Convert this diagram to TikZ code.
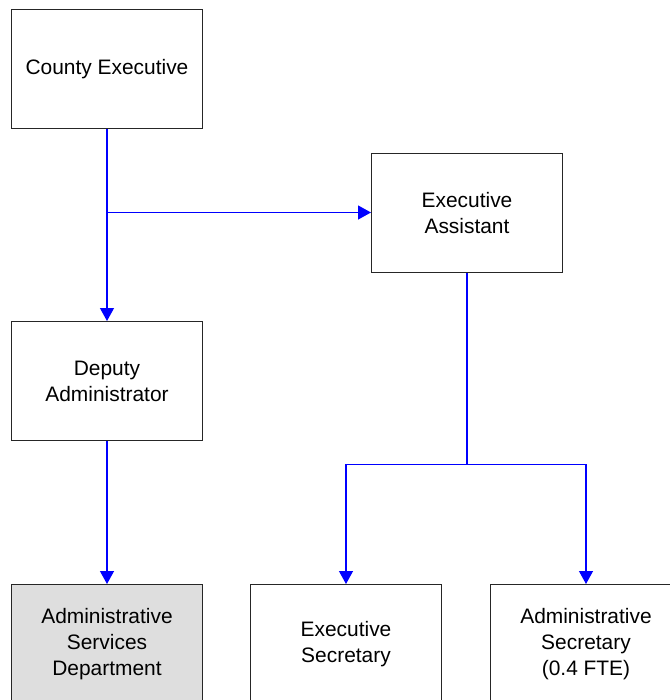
\documentclass[tikz,border=0pt]{standalone}
\usepackage{fontspec}
\setmainfont{Liberation Sans}
\usetikzlibrary{arrows.meta}
\definecolor{linkblue}{RGB}{0,0,255}
\begin{document}
\begin{tikzpicture}[x=1bp,y=-1bp,
  orgbox/.style={draw=black!85, line width=1bp, fill=white, minimum width=191bp,
    minimum height=119bp, inner sep=0pt, align=center,
    font=\fontsize{21}{26}\selectfont},
  link/.style={color=linkblue, line width=1.25bp},
  arrowlink/.style={link, -{Triangle[length=13bp,width=14bp]}}]
\useasboundingbox (0,0) rectangle (670,700);
\fill[white] (0,0) rectangle (670,700);
% boxes
\node[orgbox] (ce)  at (107,69)  {County Executive};
\node[orgbox] (ea)  at (467,213) {Executive\\Assistant};
\node[orgbox] (da)  at (107,381) {Deputy\\Administrator};
\node[orgbox, fill=black!13] (asd) at (107,644) {Administrative\\Services\\Department};
\node[orgbox] (es)  at (346,644) {Executive\\Secretary};
\node[orgbox] (as)  at (586,644) {Administrative\\Secretary\\(0.4 FTE)};
% junctions
\coordinate (j1) at (107,212.5);
\coordinate (j2) at (467,464.5);
% connectors
\draw[arrowlink] (ce.south) -- (da.north);
\draw[arrowlink] (j1) -- (j1 -| ea.west);
\draw[arrowlink] (da.south) -- (asd.north);
\draw[link] (ea.south) -- (j2);
\draw[arrowlink] (j2) -| (es.north);
\draw[arrowlink] (j2) -| (as.north);
\end{tikzpicture}
\end{document}
